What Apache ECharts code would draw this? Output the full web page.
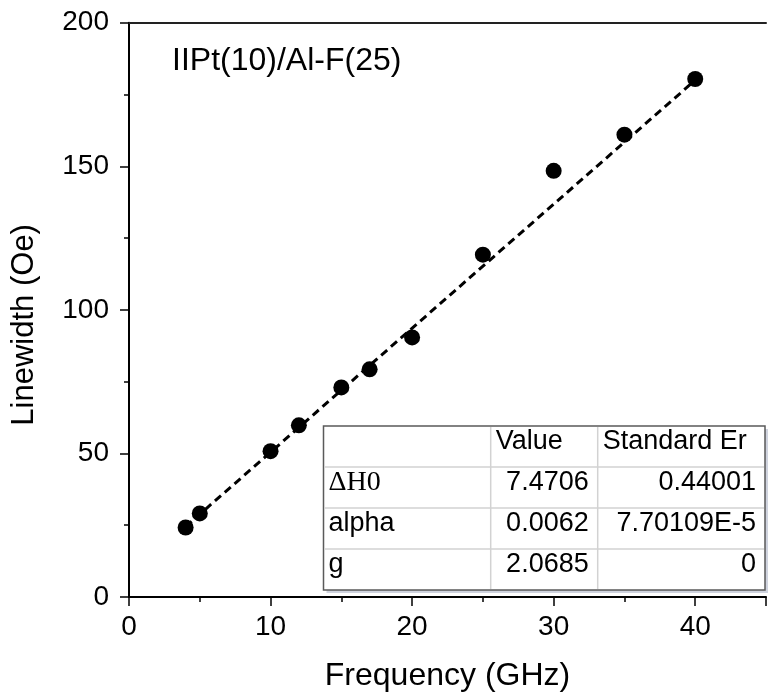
<!DOCTYPE html>
<html>
<head>
<meta charset="utf-8">
<title>Linewidth vs Frequency</title>
<script src="https://cdn.jsdelivr.net/npm/echarts@6/dist/echarts.min.js"></script>
<style>
  html, body { margin: 0; padding: 0; background: #fff; }
  #chart { width: 769px; height: 697px; }
</style>
</head>
<body>
<div id="chart"></div>
<script>
const frequency = [4, 5, 10, 12, 15, 17, 20, 25, 30, 35, 40];
const linewidth = [24.2, 29.1, 50.8, 59.8, 73.0, 79.3, 90.4, 119.2, 148.4, 161.0, 180.4];

// ends of the dashed fit line
const fitFrequency = [4, 40];
const fitLinewidth = [24.5, 180];

// labelled ticks
const xTicks = [0, 10, 20, 30, 40];
const yTicks = [0, 50, 100, 150, 200];

const sampleLabel = 'IIPt(10)/Al-F(25)';

// fit result table
const tableHeader = ['', 'Value', 'Standard Er'];
const tableRows = [
  ['ΔH0', '7.4706', '0.44001'],
  ['alpha', '0.0062', '7.70109E-5'],
  ['g', '2.0685', '0']
];

const FONT = 'Liberation Sans, Arial, Helvetica, sans-serif';
const SERIF = 'Liberation Serif, Times New Roman, serif';

// table layout
const colEdges = [323.5, 490.7, 597.7, 765];
const rowTop = 426;
const rowH = 41;

function tableGraphic() {
  const els = [];
  const nRows = tableRows.length + 1;
  const w = colEdges[3] - colEdges[0];
  const h = rowH * nRows;
  // soft shadow
  els.push({
    type: 'rect', shape: { x: colEdges[0] + 3, y: rowTop + 3, width: w, height: h },
    style: { fill: '#cfd3de' }, z: 10
  });
  els.push({
    type: 'rect', shape: { x: colEdges[0], y: rowTop, width: w, height: h },
    style: { fill: '#fff', stroke: '#5a5a5a', lineWidth: 1.5 }, z: 11
  });
  // inner grid lines
  for (let r = 1; r < nRows; r++) {
    const y = rowTop + r * rowH;
    els.push({
      type: 'line', shape: { x1: colEdges[0] + 1, y1: y, x2: colEdges[3] - 1, y2: y },
      style: { stroke: '#d2d2d2', lineWidth: 1.5 }, z: 12
    });
  }
  for (let c = 1; c < 3; c++) {
    els.push({
      type: 'line', shape: { x1: colEdges[c], y1: rowTop + 1, x2: colEdges[c], y2: rowTop + h - 1 },
      style: { stroke: '#d2d2d2', lineWidth: 1.5 }, z: 12
    });
  }
  const rows = [tableHeader].concat(tableRows);
  rows.forEach((row, r) => {
    const cy = rowTop + r * rowH + 16;
    row.forEach((txt, c) => {
      if (!txt) return;
      let x, align;
      if (c === 0 || r === 0) {
        x = colEdges[c] + 5;
        align = 'left';
      } else {
        x = colEdges[c + 1] - 9;
        align = 'right';
      }
      const isSerif = (c === 0 && txt === 'ΔH0');
      els.push({
        type: 'text', z: 13,
        style: {
          text: txt, x: x, y: cy,
          textAlign: align, align: align,
          textVerticalAlign: 'middle', verticalAlign: 'middle',
          font: (isSerif ? '28px ' + SERIF : '27px ' + FONT),
          fill: '#000'
        }
      });
    });
  });
  return els;
}

const chart = echarts.init(document.getElementById('chart'));

const option = {
  animation: false,
  backgroundColor: '#fff',
  grid: { left: 129, right: -7.7, top: 22.7, bottom: 97 },
  xAxis: [{
    type: 'value',
    min: 0, max: 45, interval: 10,
    name: 'Frequency (GHz)',
    nameLocation: 'middle',
    nameGap: 63,
    nameTextStyle: { fontFamily: FONT, fontSize: 32, color: '#000' },
    axisLine: { lineStyle: { color: '#000', width: 2 } },
    axisTick: { inside: false, length: 9, lineStyle: { color: '#000', width: 1.5 } },
    minorTick: { show: true, splitNumber: 2, length: 5, lineStyle: { color: '#000', width: 1.5 } },
    axisLabel: {
      margin: 16, fontFamily: FONT, fontSize: 28, color: '#000',
      formatter: v => (xTicks.includes(v) ? String(v) : '')
    },
    splitLine: { show: false }
  }, {
    // top frame line
    type: 'value', position: 'top',
    min: 0, max: 45,
    axisLine: { show: true, onZero: false, lineStyle: { color: '#222', width: 2 } },
    axisTick: { show: false },
    axisLabel: { show: false },
    splitLine: { show: false }
  }],
  yAxis: {
    type: 'value',
    min: 0, max: 200, interval: 50,
    name: 'Linewidth (Oe)',
    nameLocation: 'middle',
    nameGap: 89,
    nameTextStyle: { fontFamily: FONT, fontSize: 31, color: '#000', padding: [0, 30, 0, 0] },
    axisLine: { show: true, lineStyle: { color: '#000', width: 2 } },
    axisTick: { show: true, inside: false, length: 9, lineStyle: { color: '#000', width: 1.5 } },
    minorTick: { show: true, splitNumber: 2, length: 5, lineStyle: { color: '#000', width: 1.5 } },
    axisLabel: {
      margin: 20, fontFamily: FONT, fontSize: 28, color: '#000',
      formatter: v => (yTicks.includes(v) ? String(v) : '')
    },
    splitLine: { show: false }
  },
  graphic: [{
    type: 'text', left: 172, top: 45, z: 20,
    style: { text: sampleLabel, font: '32px ' + FONT, fill: '#000' }
  }].concat(tableGraphic()),
  series: [{
    // dashed linear fit
    type: 'line',
    data: fitFrequency.map((f, i) => [f, fitLinewidth[i]]),
    symbol: 'none',
    lineStyle: { color: '#000', width: 3, type: [8, 5] },
    z: 2
  }, {
    type: 'scatter',
    data: frequency.map((f, i) => [f, linewidth[i]]),
    symbol: 'circle',
    symbolSize: 16,
    itemStyle: { color: '#000', opacity: 1 },
    z: 3
  }]
};

chart.setOption(option);
</script>
</body>
</html>
